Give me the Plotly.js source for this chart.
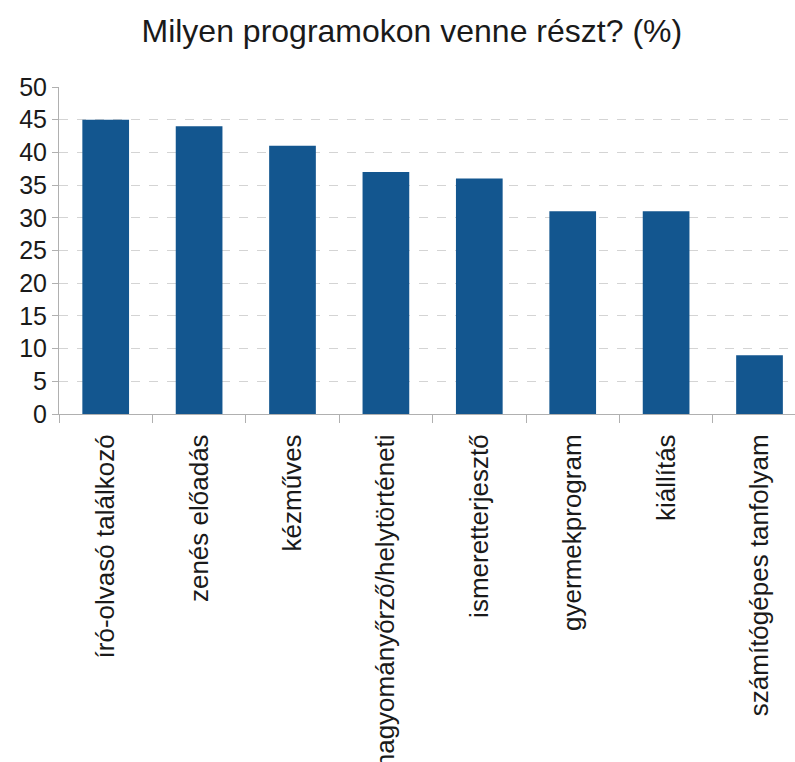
<!DOCTYPE html>
<html>
<head>
<meta charset="utf-8">
<script src="https://cdn.plot.ly/plotly-3.0.1.min.js"></script>
<style>
  html, body { margin: 0; padding: 0; background: #fff; }
  #plotArea { width: 795px; height: 762px; }
</style>
</head>
<body>
<div id="plotArea"></div>
<script>
// program types and share of respondents (%)
var programs = ["író-olvasó találkozó", "zenés előadás", "kézműves",
  "hagyományőrző/helytörténeti", "ismeretterjesztő", "gyermekprogram",
  "kiállítás", "számítógépes tanfolyam"];
var percents = [45, 44, 41, 37, 36, 31, 31, 9];
var yTicks = [0, 5, 10, 15, 20, 25, 30, 35, 40, 45, 50];

var trace = {
  x: programs,
  y: percents,
  type: "bar",
  marker: {color: "#13568f"},
  hoverinfo: "x+y"
};

var layout = {
  width: 795,
  height: 762,
  margin: {l: 59, r: 0, t: 87, b: 348},
  paper_bgcolor: "#ffffff",
  plot_bgcolor: "#ffffff",
  font: {family: "Liberation Sans, Arial, sans-serif", color: "#1a1a1a"},
  title: {
    text: "Milyen programokon venne részt? (%)",
    font: {size: 32, color: "#1a1a1a"},
    x: 0.518,
    xanchor: "center",
    y: 0.96,
    yanchor: "middle"
  },
  bargap: 0.5,
  showlegend: false,
  xaxis: {
    type: "category",
    range: [-0.5, 7.38],
    tickangle: -90,
    tickfont: {size: 26},
    tickson: "boundaries",
    ticks: "outside",
    ticklen: 8,
    tickcolor: "#b0b0b0",
    ticklabelstandoff: 9,
    showgrid: false,
    showline: true,
    linecolor: "#b0b0b0",
    linewidth: 1
  },
  yaxis: {
    range: [0, 50],
    tickvals: yTicks,
    tickfont: {size: 25},
    ticks: "outside",
    ticklen: 6,
    tickcolor: "#b0b0b0",
    showline: true,
    linecolor: "#b0b0b0",
    linewidth: 1,
    gridcolor: "#d4d4d4",
    griddash: "dash",
    gridwidth: 1,
    zeroline: false
  }
};

Plotly.newPlot("plotArea", [trace], layout, {displayModeBar: false});
</script>
</body>
</html>
